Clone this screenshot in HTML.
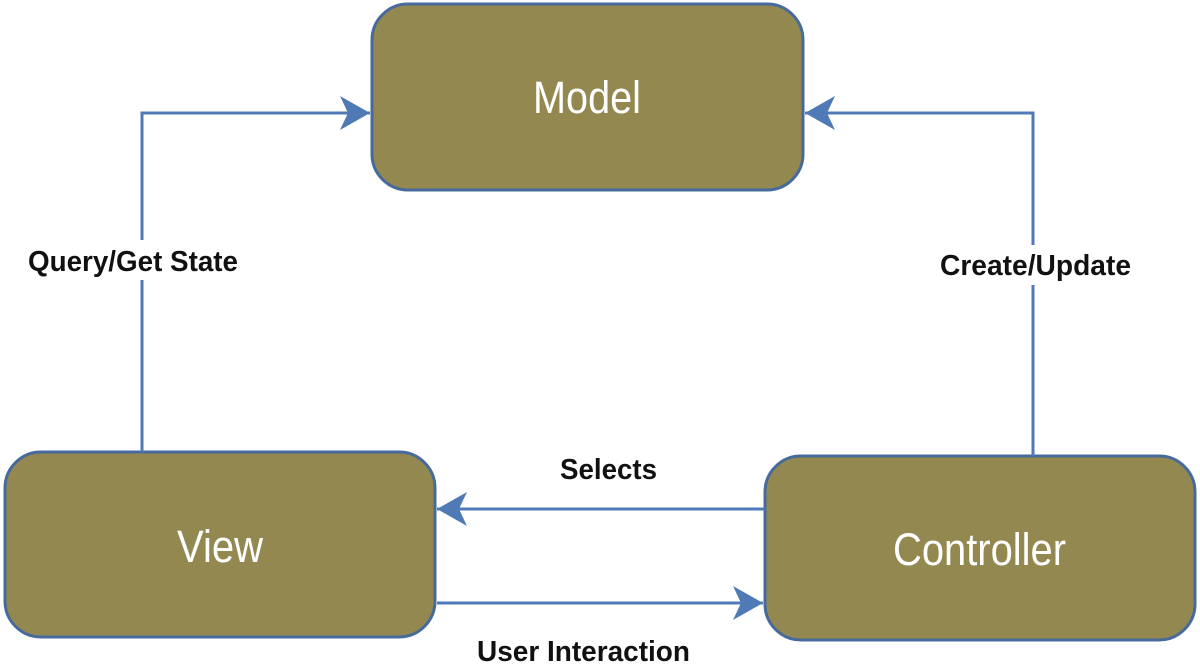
<!DOCTYPE html>
<html><head><meta charset="utf-8"><style>
html,body{margin:0;padding:0;background:#fff;}
svg{display:block;}
text{font-family:"Liberation Sans Narrow","Liberation Sans",sans-serif;}
</style></head><body>
<svg width="1200" height="665" viewBox="0 0 1200 665" xmlns="http://www.w3.org/2000/svg">
<defs>
<marker id="ah" viewBox="0 0 30 34" refX="30" refY="17" markerWidth="30" markerHeight="34" markerUnits="userSpaceOnUse" orient="auto">
<path d="M0,0 L30,17 L0,34 L8,17 Z" fill="#4f7ab5"/>
</marker>
</defs>
<g fill="#938850" stroke="#466a9c" stroke-width="3">
<rect x="372" y="4" width="431" height="186" rx="36"/>
<rect x="5" y="452" width="430" height="185" rx="36"/>
<rect x="765" y="456" width="430" height="184" rx="36"/>
</g>
<g fill="none" stroke="#4f7ab5" stroke-width="3">
<polyline points="142,452 142,113 370,113" marker-end="url(#ah)"/>
<polyline points="1033,456 1033,113 805,113" marker-end="url(#ah)"/>
<line x1="765" y1="509" x2="437" y2="509" marker-end="url(#ah)"/>
<line x1="437" y1="603" x2="763" y2="603" marker-end="url(#ah)"/>
</g>
<rect x="20" y="240" width="230" height="40" fill="#fff"/>
<rect x="930" y="245" width="210" height="40" fill="#fff"/>
<g fill="#fff" font-size="45">
<text x="533" y="113" textLength="108" lengthAdjust="spacingAndGlyphs">Model</text>
<text x="177" y="562" textLength="86" lengthAdjust="spacingAndGlyphs">View</text>
<text x="893" y="565" textLength="173" lengthAdjust="spacingAndGlyphs">Controller</text>
</g>
<g fill="#111" font-size="29" font-weight="bold">
<text x="28" y="271" textLength="210" lengthAdjust="spacingAndGlyphs">Query/Get State</text>
<text x="940" y="275" textLength="191" lengthAdjust="spacingAndGlyphs">Create/Update</text>
<text x="560" y="479" textLength="97" lengthAdjust="spacingAndGlyphs">Selects</text>
<text x="477" y="661" textLength="213" lengthAdjust="spacingAndGlyphs">User Interaction</text>
</g>
</svg>
</body></html>
